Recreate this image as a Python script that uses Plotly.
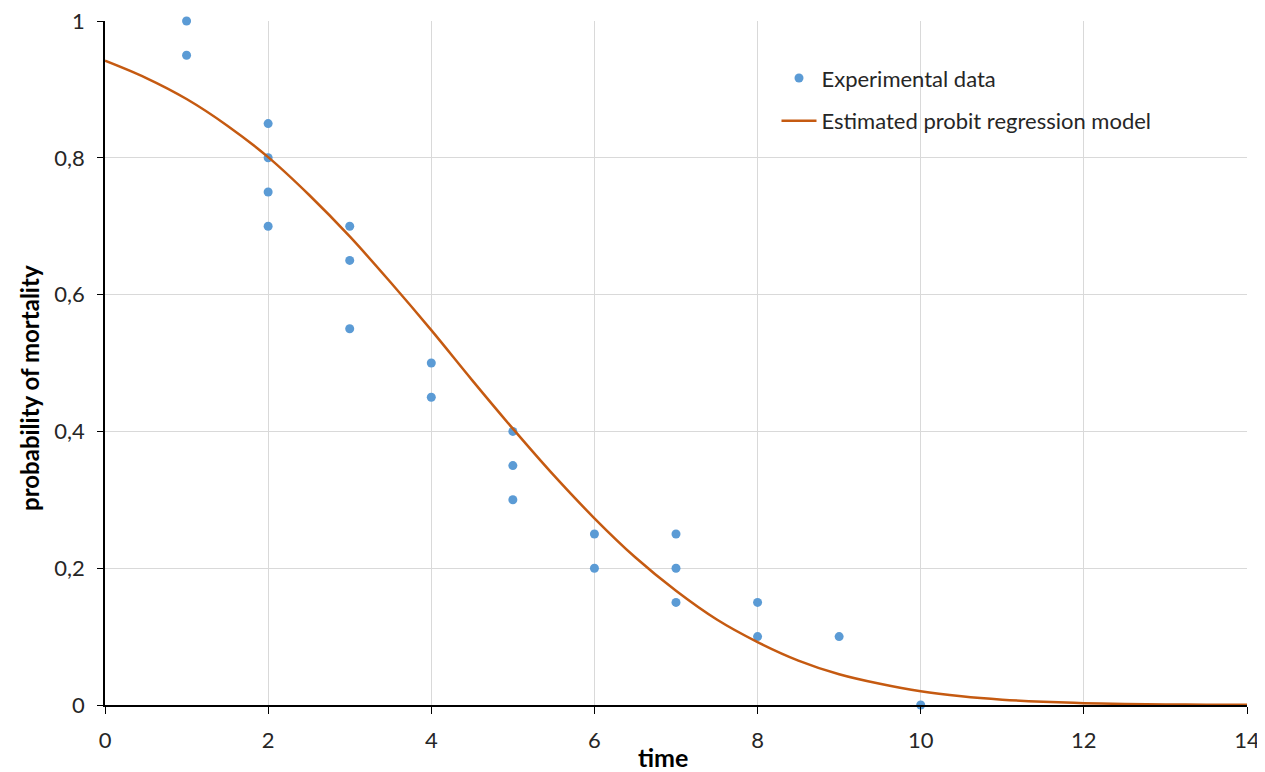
import plotly.graph_objects as go

# Experimental data
exp_time = [1, 1, 2, 2, 2, 2, 3, 3, 3, 4, 4, 5, 5, 5, 6, 6, 7, 7, 7, 8, 8, 9, 10]
exp_prob = [1.0, 0.95, 0.85, 0.8, 0.75, 0.7, 0.7, 0.65, 0.55, 0.5, 0.45,
            0.4, 0.35, 0.3, 0.25, 0.2, 0.25, 0.2, 0.15, 0.15, 0.1, 0.1, 0.0]

# Estimated probit regression model
model_time = [0, 0.5, 1, 1.5, 2, 2.5, 3, 3.5, 4, 4.5, 5, 5.5, 6, 6.5, 7, 7.5,
              8, 8.5, 9, 9.5, 10, 10.5, 11, 11.5, 12, 12.5, 13, 13.5, 14]
model_prob = [0.942, 0.917, 0.886, 0.847, 0.801, 0.746, 0.685, 0.618, 0.548,
              0.475, 0.404, 0.336, 0.273, 0.216, 0.167, 0.125, 0.092, 0.065,
              0.045, 0.031, 0.020, 0.0127, 0.0078, 0.0047, 0.0027, 0.0015,
              0.0008, 0.0004, 0.0002]

x_ticks = [0, 2, 4, 6, 8, 10, 12, 14]
y_ticks = [0, 0.2, 0.4, 0.6, 0.8, 1]
y_ticklabels = ["0", "0,2", "0,4", "0,6", "0,8", "1"]

FONT = "Lato, 'Open Sans', sans-serif"

fig = go.Figure()
fig.add_trace(go.Scatter(
    x=exp_time, y=exp_prob, mode="markers", name="Experimental data",
    marker=dict(color="#5b9bd5", size=9), legendgroup="a", cliponaxis=False))
fig.add_trace(go.Scatter(
    x=model_time, y=model_prob, mode="lines", name="Estimated probit regression model",
    line=dict(color="#c55a11", width=2.5, shape="spline"), legendgroup="b"))

fig.update_layout(
    width=1257, height=764,
    margin=dict(l=97, r=18, t=13, b=67, autoexpand=False),
    paper_bgcolor="white", plot_bgcolor="white",
    font=dict(family=FONT, size=21, color="#262626"),
    showlegend=True,
    legend=dict(x=0.588, y=0.947, xanchor="left", yanchor="top",
                font=dict(size=22, color="#262626"),
                traceorder="grouped", tracegroupgap=11,
                bgcolor="rgba(0,0,0,0)", itemwidth=35),
    xaxis=dict(range=[0, 14], tickvals=x_ticks, showgrid=True, gridcolor="#d9d9d9",
               gridwidth=1, zeroline=False, showline=True, linecolor="#000000",
               linewidth=1.5, ticks="outside", ticklen=7, tickcolor="#000000",
               tickfont=dict(size=22), ticklabelstandoff=8, automargin=False,
               ticklabeloverflow="allow"),
    yaxis=dict(range=[0, 1], tickvals=y_ticks, ticktext=y_ticklabels, showgrid=True,
               gridcolor="#d9d9d9", gridwidth=1, zeroline=False, showline=True,
               linecolor="#000000", linewidth=1.5, ticks="outside", ticklen=6,
               tickcolor="#000000", tickfont=dict(size=22), ticklabelstandoff=8,
               automargin=False, ticklabeloverflow="allow"),
    annotations=[
        dict(text="<b>time</b>", x=0.4886, y=-0.076, xref="paper", yref="paper",
             xanchor="center", yanchor="middle", showarrow=False,
             font=dict(size=25, color="#000000")),
        dict(text="<b>probability of mortality</b>", x=-0.0657, y=0.4635,
             xref="paper", yref="paper", xanchor="center", yanchor="middle",
             textangle=-90, showarrow=False, font=dict(size=24, color="#000000")),
    ],
)

fig.write_html("out.html")
